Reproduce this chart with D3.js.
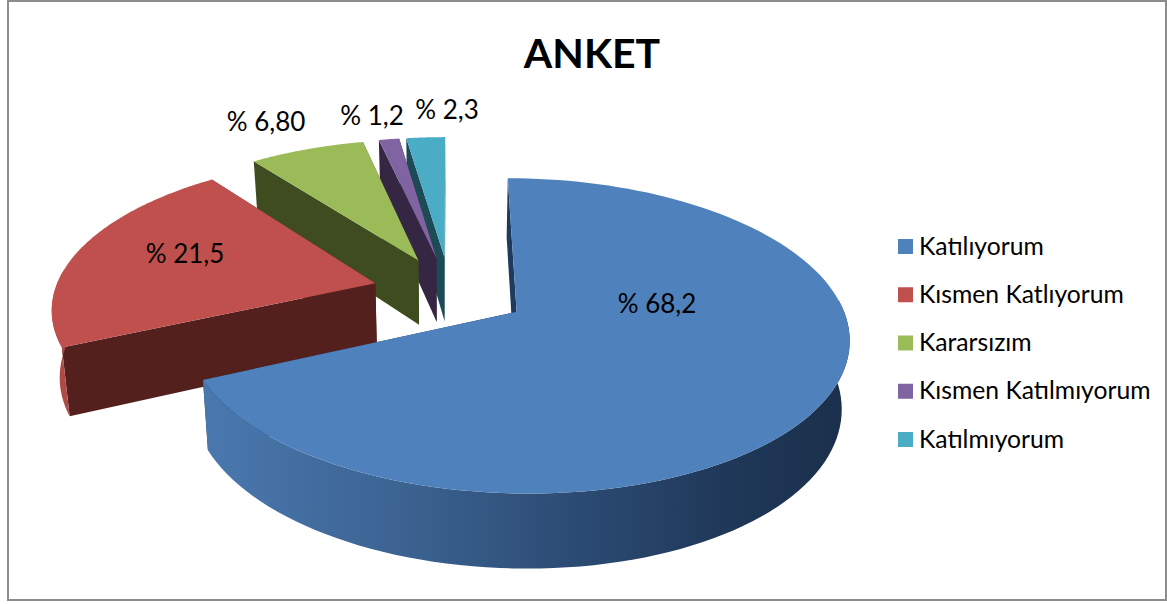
<!DOCTYPE html>
<html><head><meta charset="utf-8">
<script src="https://cdnjs.cloudflare.com/ajax/libs/d3/7.8.5/d3.min.js"></script>
<style>html,body{margin:0;padding:0;background:#fff}svg{display:block}text{font-family:Lato,"Open Sans",sans-serif;fill:#000}</style>
</head><body><svg id="c" width="1167" height="604"></svg>
<script>
const categories=["Katılıyorum","Kısmen Katlıyorum","Kararsızım","Kısmen Katılmıyorum","Katılmıyorum"];
const values=[68.2,21.5,6.8,1.2,2.3];
const valueLabels=["% 68,2","% 21,5","% 6,80","% 1,2","% 2,3"];
const colors=["#4F81BD","#C0504D","#9BBB59","#8064A2","#4BACC6"];
const innerWallColors=["#1f3a5c","#54201d","#3f4c20","#352743","#1d4a57"];
const outerWallColors=["#3a6090","#b04a47","#7f9a48","#66507f","#3b8ba0"];
const title="ANKET";

const svg=d3.select("#c");
const W=1167,H=604;
svg.append("rect").attr("x",8).attr("y",1).attr("width",W-9).attr("height",599).attr("fill","#fff").attr("stroke","#8c8c8c").attr("stroke-width",2);

// projection of a unit disc
const cx=450,cy=292,rx=321,ry=148,p=0.15,explode=0.242;
const proj=(X,Y,low)=>{
  const d=1+p*Y;
  let sx=cx+rx*X/d, sy=cy-ry*Y/d;
  if(low){const h=66-8*Y; sy+=h; sx=cx+(sx-cx)*0.98;}
  return [sx,sy];
};
const arcs=d3.pie().sort(null).startAngle(0).endAngle(2*Math.PI)(values);
const line=d3.line();
const defs=svg.append("defs");
const g=defs.append("linearGradient").attr("id","blueWall").attr("gradientUnits","userSpaceOnUse").attr("x1",207).attr("x2",849).attr("y1",0).attr("y2",0);
[[0,"#4a78ae"],[0.3,"#3c6392"],[0.55,"#2d4d76"],[0.8,"#20395a"],[1,"#1a2f4b"]].forEach(s=>g.append("stop").attr("offset",s[0]).attr("stop-color",s[1]));

const chart=svg.append("g");
// back-to-front drawing order: small far slices first
const order=[4,3,2,1,0];
order.forEach(i=>{
  const a=arcs[i];
  const mid=(a.startAngle+a.endAngle)/2;
  const ox=explode*Math.sin(mid), oy=explode*Math.cos(mid);
  const angles=d3.range(0,121).map(k=>a.startAngle+(a.endAngle-a.startAngle)*k/120);
  const pts=angles.map(t=>[ox+Math.sin(t),oy+Math.cos(t)]);
  const s=chart.append("g").attr("class","slice");
  const apex=[ox,oy];
  // radial walls
  [pts[0],pts[120]].forEach(q=>{
    s.append("path").attr("d",line([proj(apex[0],apex[1]),proj(q[0],q[1]),proj(q[0],q[1],true),proj(apex[0],apex[1],true)])+"Z")
     .attr("fill",innerWallColors[i]);
  });
  // outer wall: only the part of the rim that faces the viewer
  const front=pts.filter((q,k)=>Math.cos(angles[k])<0.1);
  if(front.length>1){
    const top=front.map(q=>proj(q[0],q[1])), low=front.map(q=>proj(q[0],q[1],true)).reverse();
    s.append("path").attr("d",line(top.concat(low))+"Z").attr("fill",i===0?"url(#blueWall)":outerWallColors[i]);
  }
  // top face
  s.append("path").attr("d",line([proj(apex[0],apex[1])].concat(pts.map(q=>proj(q[0],q[1]))))+"Z").attr("fill",colors[i]);
});

// data labels
const labelAnchors=[[657,313],[185,263],[266,131],[372,125],[447,119]];
svg.append("g").selectAll("text").data(valueLabels).join("text")
  .attr("x",(d,i)=>labelAnchors[i][0]).attr("y",(d,i)=>labelAnchors[i][1])
  .attr("text-anchor","middle").attr("font-size",26).text(d=>d);

svg.append("text").attr("x",592).attr("y",68).attr("text-anchor","middle").attr("font-size",41).attr("font-weight",700).text(title);

// legend
const ly=d3.scalePoint().domain(categories).range([246.5,439.5]);
const lg=svg.append("g").selectAll("g").data(categories).join("g").attr("transform",d=>`translate(898,${ly(d)})`);
lg.append("rect").attr("x",0).attr("y",-7.5).attr("width",15).attr("height",15).attr("fill",(d,i)=>colors[i]);
lg.append("text").attr("x",21).attr("y",8).attr("font-size",24.7).text(d=>d);
</script></body></html>
